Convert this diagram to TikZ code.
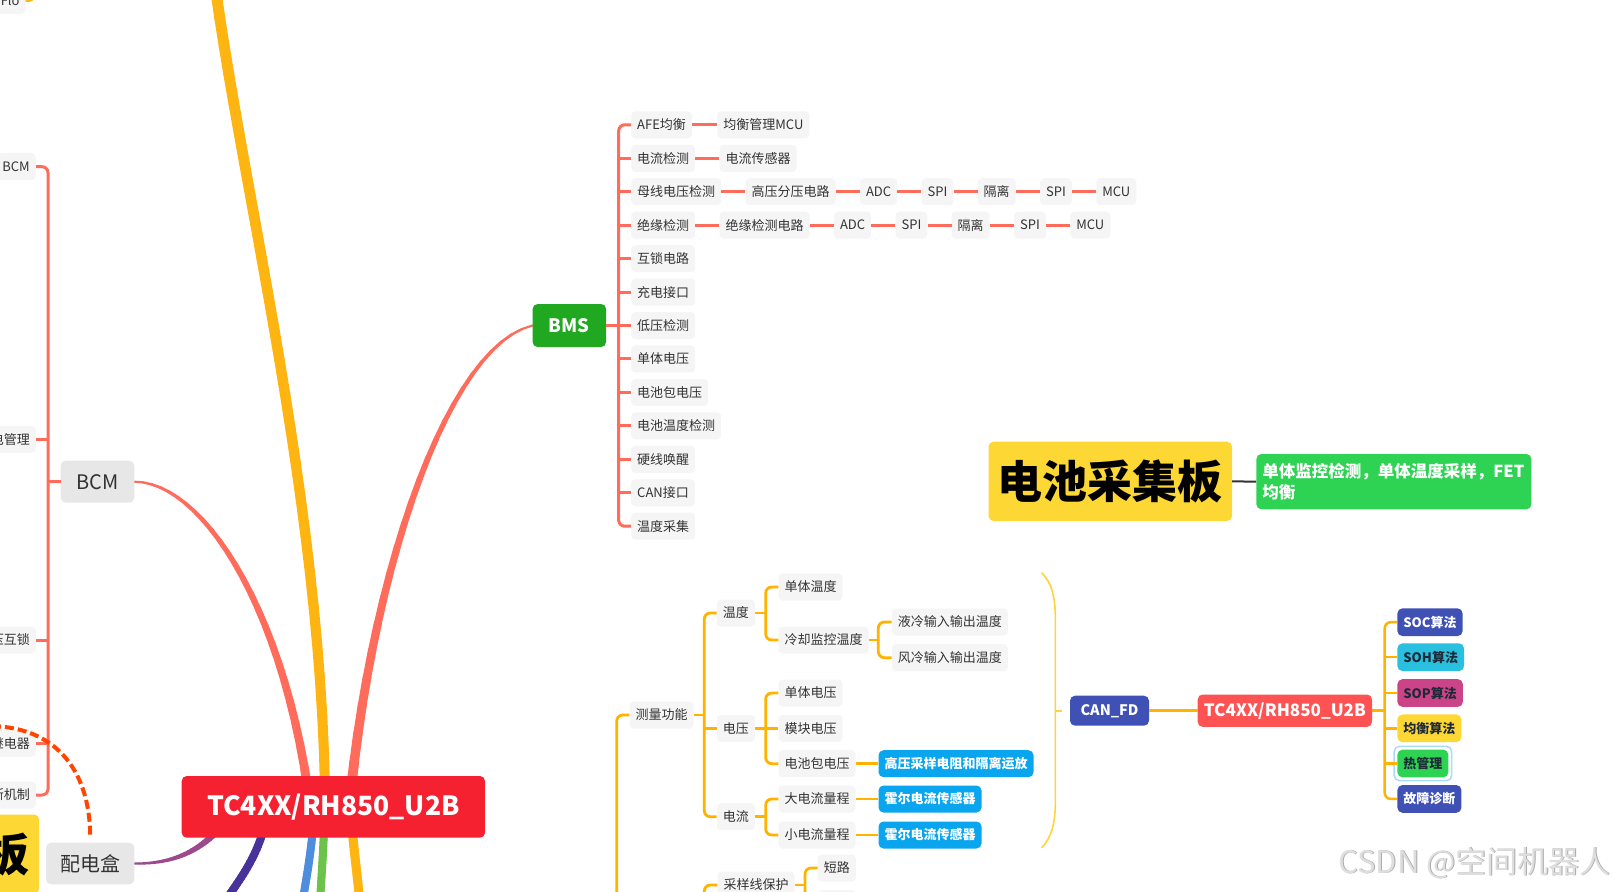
\documentclass[tikz,border=0pt]{standalone}
\usepackage{fontspec}
\setmainfont{Noto Sans CJK SC}
\usetikzlibrary{positioning,calc}
\pgfdeclarelayer{bg}
\pgfsetlayers{bg,main}
\definecolor{coral}{HTML}{FF6C5C}
\definecolor{ylw}{HTML}{FFB511}
\definecolor{org}{HTML}{FFB300}
\definecolor{boxg}{HTML}{F5F5F5}
\definecolor{boxgg}{HTML}{E7E7E7}
\definecolor{txt}{HTML}{333333}
\definecolor{mainred}{HTML}{F52130}
\definecolor{redtwo}{HTML}{FF5252}
\definecolor{bmsgreen}{HTML}{20A821}
\definecolor{indig}{HTML}{3F51B5}
\definecolor{cyanb}{HTML}{29C0E0}
\definecolor{mag}{HTML}{CC4488}
\definecolor{yel}{HTML}{FDD835}
\definecolor{grn}{HTML}{2ED354}
\definecolor{skyb}{HTML}{0AA5EF}
\definecolor{purp}{HTML}{9C4A8D}
\definecolor{navy}{HTML}{46329A}
\definecolor{blu}{HTML}{4F8EDC}
\definecolor{lgrn}{HTML}{6DC24B}
\definecolor{dashred}{HTML}{FF4500}
\definecolor{selb}{HTML}{A8DDF8}
\definecolor{darkt}{HTML}{1E2A38}
\definecolor{brk}{HTML}{FFD43B}

\newcommand\taperline[7]{%
  \path #2 .. controls #3 and #4 .. #5
    \foreach \k [evaluate=\k as \tq using \k/24] in {0,...,24}{ coordinate[pos=\tq] (tp\k) };
  \foreach \k [evaluate=\k as \kk using int(\k+1), evaluate=\k as \ww using #6+(#7-#6)*(\k+0.5)/24] in {0,...,23}{
    \draw[#1, line width=\ww pt, line cap=round] (tp\k) -- (tp\kk);
  }%
}

\tikzset{
  sub/.style={fill=boxg, rounded corners=4pt, text=txt, font=\fontsize{13}{15}\selectfont, inner xsep=6pt, inner ysep=0pt, minimum height=27pt, anchor=west},
  hl/.style={fill=skyb, rounded corners=5pt, text=white, font=\fontsize{13}{15}\selectfont\bfseries, inner xsep=6pt, inner ysep=0pt, minimum height=27pt, anchor=west},
  alg/.style={rounded corners=5pt, font=\fontsize{13}{15}\selectfont\bfseries, inner xsep=6pt, inner ysep=0pt, minimum height=27.7pt, anchor=west},
  bigg/.style={fill=boxgg, rounded corners=5pt, text=txt, font=\fontsize{20}{22}\selectfont, inner sep=0pt},
  cl/.style={draw=coral, line width=3pt},
  ol/.style={draw=org, line width=2.8pt},
  bigy/.style={fill=yel, rounded corners=5pt, font=\fontsize{45}{50}\selectfont\bfseries, minimum width=243.5pt, minimum height=79.3pt, inner sep=0pt},
}

\begin{document}
\begin{tikzpicture}[x=1pt,y=-1pt]
\useasboundingbox (0,0) rectangle (1616,891);
\clip (0,0) rectangle (1616,891);

% ---------- main node ----------
\node[fill=mainred, rounded corners=5pt, text=white, font=\fontsize{26.5}{30}\selectfont\bfseries, minimum width=303.3pt, minimum height=61.7pt, inner sep=0pt] (main) at (333.35,806.85) {TC4XX/RH850\_U2B};

% ---------- left side ----------
\node[bigg, minimum width=73.6pt, minimum height=42pt] (bcm) at (97.5,481.7) {BCM};
\node[bigg, minimum width=88.3pt, minimum height=41.6pt] (pdh) at (90.2,863.5) {配电盒};
\node[sub, anchor=east] (fl) at (25.7,0.5) {iFlo};
\node[sub, anchor=east] (l1) at (36,166.7) {BCM};
\node[sub, anchor=east] (l2) at (36,439.3) {上下电管理};
\node[sub, anchor=east] (l3) at (36,640) {高压互锁};
\node[sub, anchor=east] (l4) at (36,743.3) {继电器};
\node[sub, anchor=east] (l5) at (36,795) {诊断机制};
\node[bigy, anchor=north east] (big2) at (39.3,814.3) {电池采集板};
\coordinate (lt) at (48,481.7);
\draw[cl, rounded corners=6pt] (l1.east) -| (lt) |- (l5.east);
\foreach \n in {l2,l3,l4}{\draw[cl] (\n.east) -- (\n.east -| lt);}
\draw[cl] (lt) -- (bcm.west);
\draw[draw=ylw, line width=3pt, rounded corners=4pt] (fl.east) -- (33,0.5) -- (33,-20);

% ---------- BMS ----------
\node[fill=bmsgreen, rounded corners=5pt, text=white, font=\fontsize{18.5}{22}\selectfont\bfseries, minimum width=73.5pt, minimum height=43pt, inner sep=0pt] (bms) at (569.35,325.5) {BMS};
\coordinate (bt) at (618.7,325.5);
\node[sub] (b1) at (631,124.8) {AFE均衡};
\node[sub] (b2) at (631,158.25) {电流检测};
\node[sub] (b3) at (631,191.7) {母线电压检测};
\node[sub] (b4) at (631,225.15) {绝缘检测};
\node[sub] (b5) at (631,258.6) {互锁电路};
\node[sub] (b6) at (631,292.05) {充电接口};
\node[sub] (b7) at (631,325.5) {低压检测};
\node[sub] (b8) at (631,358.95) {单体电压};
\node[sub] (b9) at (631,392.4) {电池包电压};
\node[sub] (b10) at (631,425.85) {电池温度检测};
\node[sub] (b11) at (631,459.3) {硬线唤醒};
\node[sub] (b12) at (631,492.75) {CAN接口};
\node[sub] (b13) at (631,526.2) {温度采集};
\draw[cl, rounded corners=6pt] (b1.west) -| (bt) |- (b13.west);
\draw[cl] (bms.east) -- (b7.west);
\foreach \n in {b2,b3,b4,b5,b6,b8,b9,b10,b11,b12}{\draw[cl] (\n.west) -- (\n.west -| bt);}

\node[sub, right=25pt of b1] (b1a) {均衡管理MCU};
\node[sub, right=24pt of b2] (b2a) {电流传感器};
\node[sub, right=24pt of b3] (b3a) {高压分压电路};
\node[sub, right=24pt of b3a] (b3b) {ADC};
\node[sub, right=24pt of b3b] (b3c) {SPI};
\node[sub, right=24pt of b3c] (b3d) {隔离};
\node[sub, right=24pt of b3d] (b3e) {SPI};
\node[sub, right=24pt of b3e] (b3f) {MCU};
\node[sub, right=24pt of b4] (b4a) {绝缘检测电路};
\node[sub, right=24pt of b4a] (b4b) {ADC};
\node[sub, right=24pt of b4b] (b4c) {SPI};
\node[sub, right=24pt of b4c] (b4d) {隔离};
\node[sub, right=24pt of b4d] (b4e) {SPI};
\node[sub, right=24pt of b4e] (b4f) {MCU};
\draw[cl] (b1.east) -- (b1a.west);
\draw[cl] (b2.east) -- (b2a.west);
\draw[cl] (b3.east) -- (b3a.west);
\draw[cl] (b3a.east) -- (b3b.west);
\draw[cl] (b3b.east) -- (b3c.west);
\draw[cl] (b3c.east) -- (b3d.west);
\draw[cl] (b3d.east) -- (b3e.west);
\draw[cl] (b3e.east) -- (b3f.west);
\draw[cl] (b4.east) -- (b4a.west);
\draw[cl] (b4a.east) -- (b4b.west);
\draw[cl] (b4b.east) -- (b4c.west);
\draw[cl] (b4c.east) -- (b4d.west);
\draw[cl] (b4d.east) -- (b4e.west);
\draw[cl] (b4e.east) -- (b4f.west);

% ---------- measurement ----------
\node[sub] (m0) at (629.3,715) {测量功能};
\node[sub] (t) at (716.7,613) {温度};
\node[sub] (v) at (716.7,728.3) {电压};
\node[sub] (c) at (716.7,816.7) {电流};
\node[sub] (t1) at (778.3,587) {单体温度};
\node[sub] (t2) at (778.3,640) {冷却监控温度};
\node[sub] (t21) at (891.7,622) {液冷输入输出温度};
\node[sub] (t22) at (891.7,657.7) {风冷输入输出温度};
\node[sub] (v1) at (778.3,693) {单体电压};
\node[sub] (v2) at (778.3,728.3) {模块电压};
\node[sub] (v3) at (778.3,763.7) {电池包电压};
\node[hl] (v3a) at (878.3,763.7) {高压采样电阻和隔离运放};
\node[sub] (c1) at (778.3,799) {大电流量程};
\node[sub] (c2) at (778.3,835) {小电流量程};
\node[hl] (c1a) at (878.3,799) {霍尔电流传感器};
\node[hl] (c2a) at (878.3,835) {霍尔电流传感器};
\node[sub] (p) at (717.3,885) {采样线保护};
\node[sub] (p1) at (817.7,868) {短路};
\node[sub] (p2) at (817.7,903.5) {断路};

\coordinate (mt2) at (704.3,715);
\draw[ol, rounded corners=6pt] (m0.west) -| (616.7,930);
\draw[ol] (m0.east) -- (mt2);
\draw[ol, rounded corners=6pt] (t.west) -| (mt2) |- (c.west);
\draw[ol] (v.west) -- (v.west -| mt2);
\draw[ol] (t.east) -- (765.7,613);
\draw[ol, rounded corners=6pt] (t1.west) -| (765.7,613) |- (t2.west);
\draw[ol] (v.east) -- (v2.west);
\draw[ol, rounded corners=6pt] (v1.west) -| (765.7,728.3) |- (v3.west);
\draw[ol] (c.east) -- (765.7,816.7);
\draw[ol, rounded corners=6pt] (c1.west) -| (765.7,816.7) |- (c2.west);
\draw[ol] (t2.east) -- (878.3,640);
\draw[ol, rounded corners=6pt] (t21.west) -| (878.3,640) |- (t22.west);
\draw[ol] (v3.east) -- (v3a.west);
\draw[ol] (c1.east) -- (c1a.west);
\draw[ol] (c2.east) -- (c2a.west);
\draw[ol, rounded corners=6pt] (p.west) -| (704.3,930);
\draw[ol] (p.east) -- (805,885);
\draw[ol, rounded corners=6pt] (p1.west) -| (805,930);

% summary bracket
\draw[draw=brk, line width=1.6pt] (1041.6,572.7) .. controls (1051,582) and (1055.4,595) .. (1055.4,620) -- (1055.4,800) .. controls (1055.4,825) and (1051,838) .. (1041.6,847.7);
\draw[draw=brk, line width=1.6pt] (1055.4,710.7) -- (1062,710.7);

% ---------- right chain ----------
\node[fill=indig, rounded corners=5pt, text=white, font=\fontsize{14.5}{18}\selectfont\bfseries, minimum width=79pt, minimum height=30pt, inner sep=0pt] (can) at (1109.5,710.7) {CAN\_FD};
\node[fill=redtwo, rounded corners=5pt, text=white, font=\fontsize{17}{21}\selectfont\bfseries, minimum width=174.3pt, minimum height=32.4pt, inner sep=0pt] (tc2) at (1284.85,710.7) {TC4XX/RH850\_U2B};
\draw[ol, line width=2.5pt] (can.east) -- (tc2.west);
\node[alg, fill=indig, text=white] (a1) at (1397.2,622.2) {SOC算法};
\node[alg, fill=cyanb, text=darkt] (a2) at (1397.2,657.2) {SOH算法};
\node[alg, fill=mag, text=darkt] (a3) at (1397.2,693) {SOP算法};
\node[alg, fill=yel, text=darkt] (a4) at (1397.2,728.3) {均衡算法};
\node[alg, fill=grn, text=darkt] (a5) at (1397.2,763.5) {热管理};
\node[alg, fill=indig, text=white] (a6) at (1397.2,798.9) {故障诊断};
\draw[draw=selb, line width=1.5pt, rounded corners=5pt] ($(a5.south west)+(-3,3)$) rectangle ($(a5.north east)+(3,-3)$);
\coordinate (rt) at (1384.7,710.7);
\draw[ol, line width=2.5pt] (tc2.east) -- (rt);
\draw[ol, line width=2.5pt, rounded corners=6pt] (a1.west) -| (rt) |- (a6.west);
\foreach \n in {a2,a3,a4,a5}{\draw[ol, line width=2.5pt] (\n.west) -- (\n.west -| rt);}

% ---------- battery board ----------
\node[bigy] (big) at (1110.25,481.35) {电池采集板};
\node[fill=grn, rounded corners=5pt, text=white, font=\fontsize{16.5}{21.7}\selectfont\bfseries, text width=263pt, align=left, inner xsep=6pt, inner ysep=0pt, minimum height=55.3pt, anchor=west] (desc) at (1256.2,481.65) {单体监控检测，单体温度采样，FET\\均衡};
\draw[draw=txt, line width=2pt] (big.east) -- (desc.west);

% dashed link
\draw[draw=dashred, line width=4pt, dash pattern=on 9pt off 4pt] (-8,726) .. controls (60,728) and (90,775) .. ($(pdh.north)+(0,-6)$);

% watermark
\node[anchor=base west, text=black!33, font=\fontsize{31}{33}\selectfont] (wms) at (1335.8,873.8) {CSDN @空间机器人};
\node[anchor=base west, text=black!13, font=\fontsize{31}{33}\selectfont] (wm) at (1335,873) {CSDN @空间机器人};

% ---------- thick branches ----------
\begin{pgfonlayer}{bg}
\taperline{ylw}{(216,-8)}{(245,200)}{(320,500)}{(325,790)}{11}{10}
\taperline{coral}{(bcm.east)}{(200,482)}{(280,600)}{(308,790)}{2}{9}
\taperline{coral}{(351,790)}{(375,560)}{(450,345)}{(bms.west)}{10}{2}
\taperline{purp}{(pdh.east)}{(175,864)}{(200,850)}{(220,828)}{2}{7}
\taperline{navy}{(264,828)}{(256,858)}{(240,880)}{(222,905)}{8}{8}
\taperline{blu}{(313,828)}{(310,860)}{(306,880)}{(302,905)}{8}{8}
\taperline{lgrn}{(324,828)}{(323,860)}{(321,880)}{(320,905)}{8}{8}
\taperline{ylw}{(352,828)}{(355,860)}{(358,880)}{(360,905)}{9}{9}
\end{pgfonlayer}
\end{tikzpicture}
\end{document}
